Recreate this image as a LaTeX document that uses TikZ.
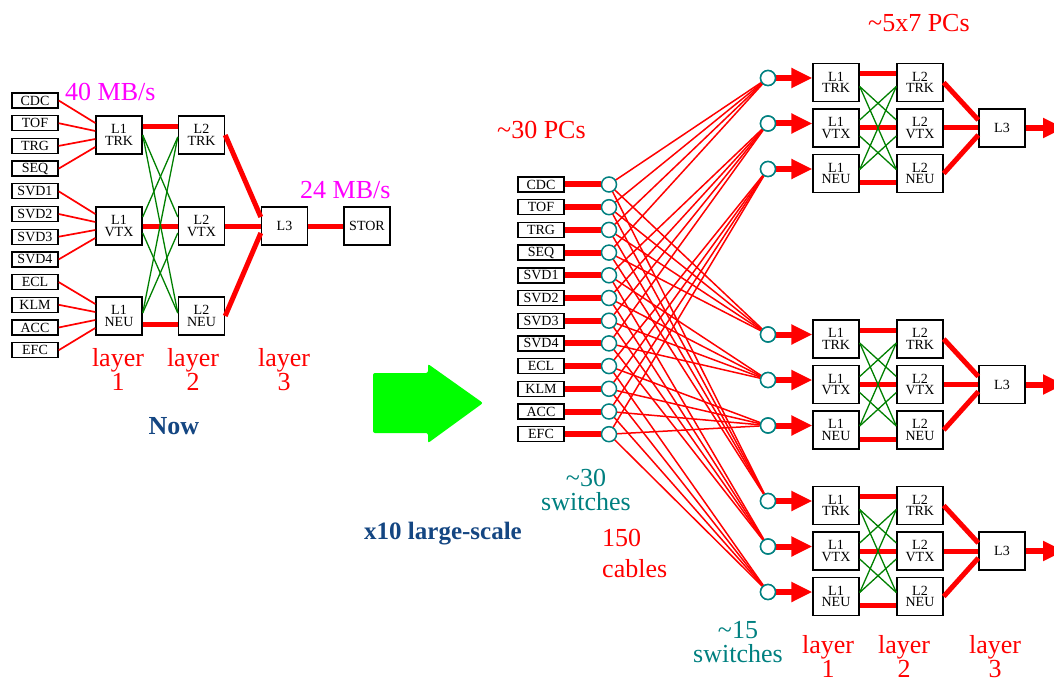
\documentclass[tikz,border=0pt]{standalone}
\usepackage{fontspec}
\setmainfont{Liberation Serif}
\usetikzlibrary{arrows.meta}

\definecolor{swteal}{RGB}{0,128,128}
\definecolor{navyblue}{RGB}{20,70,130}
\definecolor{xgreen}{RGB}{0,128,0}
\definecolor{bigarrow}{RGB}{0,255,0}
\definecolor{ratepink}{RGB}{255,0,255}

% one processing farm: #1 = name prefix, #2 = y of its middle row
\newcommand\pcfarm[2]{%
  \node[proc] (#1a1) at (836,{#2-45.5}) {L1\\TRK};
  \node[proc] (#1b1) at (836,{#2})      {L1\\VTX};
  \node[proc] (#1c1) at (836,{#2+45.5}) {L1\\NEU};
  \node[proc] (#1a2) at (920,{#2-45.5}) {L2\\TRK};
  \node[proc] (#1b2) at (920,{#2})      {L2\\VTX};
  \node[proc] (#1c2) at (920,{#2+45.5}) {L2\\NEU};
  \node[proc] (#1l3) at (1002,{#2})     {L3};
  \coordinate (#1out) at (1064,{#2});
  \node[sw] (#1swt) at (768,{#2-50}) {};
  \node[sw] (#1swv) at (768,{#2-4.5}) {};
  \node[sw] (#1swn) at (768,{#2+41}) {};
  \draw[arr] (#1swt.east) -- ([yshift=4.5pt]#1a1.west);
  \draw[arr] (#1swv.east) -- ([yshift=4.5pt]#1b1.west);
  \draw[arr] (#1swn.east) -- ([yshift=4.5pt]#1c1.west);
  \draw[fat] ([yshift=9pt]#1a1.east) -- ([yshift=9pt]#1a2.west);
  \draw[fat] (#1b1.east) -- (#1b2.west);
  \draw[fat] ([yshift=-9pt]#1c1.east) -- ([yshift=-9pt]#1c2.west);
  \draw[xlink] ([yshift=-4pt]#1a1.east) -- ([yshift=8pt]#1b2.west);
  \draw[xlink] ([yshift=-4pt]#1a1.east) -- ([yshift=4pt]#1c2.west);
  \draw[xlink] ([yshift=8pt]#1b1.east) -- ([yshift=-4pt]#1a2.west);
  \draw[xlink] ([yshift=-8pt]#1b1.east) -- ([yshift=4pt]#1c2.west);
  \draw[xlink] ([yshift=4pt]#1c1.east) -- ([yshift=-4pt]#1a2.west);
  \draw[xlink] ([yshift=4pt]#1c1.east) -- ([yshift=-8pt]#1b2.west);
  \draw[fat] (#1a2.east) -- ([yshift=8pt]#1l3.west);
  \draw[fat] (#1b2.east) -- (#1l3.west);
  \draw[fat] (#1c2.east) -- ([yshift=-7pt]#1l3.west);
  \draw[arr] (#1l3.east) -- (#1out);
}

\begin{document}
\begin{tikzpicture}[x=1pt,y=-1pt,
  det/.style={draw, line width=1.4pt, minimum width=46pt, minimum height=15pt,
    inner sep=0pt, font=\fontsize{14}{14}\selectfont},
  proc/.style={draw, line width=1.4pt, fill=white, minimum width=46pt, minimum height=38pt,
    inner sep=0pt, align=center, font=\fontsize{14}{11.5}\selectfont},
  sw/.style={circle, draw=swteal, line width=1.5pt, fill=white, minimum size=15pt, inner sep=0pt},
  wire/.style={red, line width=1.7pt},
  fat/.style={red, line width=5pt},
  arr/.style={red, line width=6pt, -{Triangle[length=21pt,width=19pt]}},
  xlink/.style={xgreen, line width=1.3pt},
  lab/.style={inner sep=0pt, font=\fontsize{26}{24}\selectfont},
  boldlab/.style={inner sep=0pt, font=\fontsize{25}{24}\selectfont\bfseries, navyblue},
 ]
\useasboundingbox (0,0) rectangle (1054,679);

% ---------- present system ----------
\foreach \n [count=\i] in {CDC,TOF,TRG,SEQ,SVD1,SVD2,SVD3,SVD4,ECL,KLM,ACC,EFC}
  \node[det] (d\i) at (35,{100.5+22.7*(\i-1)}) {\n};

\node[proc] (p1t) at (119,135) {L1\\TRK};
\node[proc] (p1v) at (119,226) {L1\\VTX};
\node[proc] (p1n) at (119,316) {L1\\NEU};
\node[proc] (p2t) at (201.5,135) {L2\\TRK};
\node[proc] (p2v) at (201.5,226) {L2\\VTX};
\node[proc] (p2n) at (201.5,316) {L2\\NEU};
\node[proc] (p3) at (284.5,226) {L3};
\node[proc] (stor) at (367,226) {STOR};

\foreach \i/\t/\o in {1/t/12,2/t/4,3/t/-4,4/t/-12,5/v/12,6/v/4,7/v/-4,8/v/-12,9/n/12,10/n/4,11/n/-4,12/n/-12}
  \draw[wire] (d\i.east) -- ([yshift=\o pt]p1\t.west);

\draw[fat] ([yshift=8pt]p1t.east) -- ([yshift=8pt]p2t.west);
\draw[fat] (p1v.east) -- (p2v.west);
\draw[fat] ([yshift=-8pt]p1n.east) -- ([yshift=-8pt]p2n.west);

\draw[xlink] (p1t.east) -- ([yshift=9pt]p2v.west);
\draw[xlink] (p1t.east) -- ([yshift=3pt]p2n.west);
\draw[xlink] ([yshift=9pt]p1v.east) -- ([yshift=-2pt]p2t.west);
\draw[xlink] ([yshift=-7pt]p1v.east) -- ([yshift=3pt]p2n.west);
\draw[xlink] ([yshift=3pt]p1n.east) -- ([yshift=-2pt]p2t.west);
\draw[xlink] ([yshift=3pt]p1n.east) -- ([yshift=-7pt]p2v.west);

\draw[fat] (p2t.east) -- ([yshift=9pt]p3.west);
\draw[fat] (p2v.east) -- (p3.west);
\draw[fat] (p2n.east) -- ([yshift=-7pt]p3.west);
\draw[fat] (p3.east) -- (stor.west);

\node[lab, ratepink, anchor=base west] (rate1) at (65,101) {40 MB/s};
\node[lab, ratepink, anchor=base west] (rate2) at (300,199) {24 MB/s};
\node[lab, red, align=center, anchor=north] (lyA) at (118,348) {layer\\1};
\node[lab, red, align=center, anchor=north] (lyB) at (193,348) {layer\\2};
\node[lab, red, align=center, anchor=north] (lyC) at (284,348) {layer\\3};
\node[boldlab, font=\fontsize{26}{24}\selectfont\bfseries, anchor=base] (now) at (174,434) {Now};

% ---------- upgrade arrow ----------
\fill[bigarrow, rounded corners=2pt] (373,373) -- (428,373) -- (428,364) -- (483,403)
  -- (428,443) -- (428,433) -- (373,433) -- cycle;
\node[boldlab, anchor=base] (scale) at (443,539) {x10 large-scale};

% ---------- switched system ----------
\foreach \n [count=\i] in {CDC,TOF,TRG,SEQ,SVD1,SVD2,SVD3,SVD4,ECL,KLM,ACC,EFC}
  \node[det] (e\i) at (541,{184.5+22.7*(\i-1)}) {\n};

\pcfarm{A}{128}
\pcfarm{B}{384.5}
\pcfarm{C}{551}

\foreach \i/\t in {1/t,2/t,3/t,4/t,5/v,6/v,7/v,8/v,9/n,10/n,11/n,12/n}
  \foreach \f in {A,B,C}
    \draw[wire, line width=1.5pt] (609,{184.5+22.7*(\i-1)}) -- (\f sw\t);

\foreach \i in {1,...,12} {
  \node[sw] (s\i) at (609,{184.5+22.7*(\i-1)}) {};
  \draw[red, line width=6pt] (e\i.east) -- (s\i.west);
}
\foreach \f in {A,B,C} {
  \node[sw] at (\f swt) {};
  \node[sw] at (\f swv) {};
  \node[sw] at (\f swn) {};
}

\node[lab, red, anchor=base west] (pcs1) at (868,32) {\textasciitilde5x7 PCs};
\node[lab, red, anchor=base west] (pcs2) at (497,139) {\textasciitilde30 PCs};
\node[lab, swteal, align=center, anchor=north] (sw30) at (586,469.5) {\textasciitilde30\\switches};
\node[lab, red, align=left, anchor=north west, font=\fontsize{26}{31}\selectfont] (cab) at (602,529.5) {150\\cables};
\node[lab, swteal, align=center, anchor=north] (sw15) at (738,621.5) {\textasciitilde15\\switches};
\node[lab, red, align=center, anchor=north] (lyD) at (828,635) {layer\\1};
\node[lab, red, align=center, anchor=north] (lyE) at (904,635) {layer\\2};
\node[lab, red, align=center, anchor=north] (lyF) at (995,635) {layer\\3};
\end{tikzpicture}
\end{document}
